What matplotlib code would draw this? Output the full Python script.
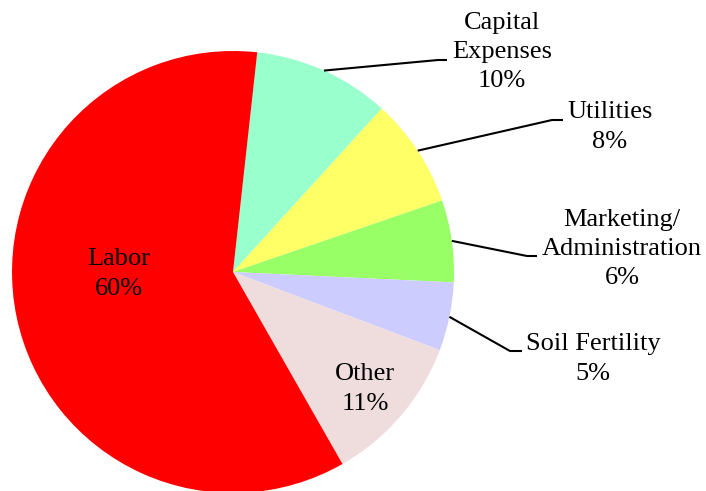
import numpy as np
import matplotlib
matplotlib.use("Agg")
import matplotlib.pyplot as plt

# Data (clockwise from Capital Expenses)
categories = ["Capital\nExpenses", "Utilities", "Marketing/\nAdministration",
              "Soil Fertility", "Other", "Labor"]
values = [10, 8, 6, 5, 11, 60]
pct_labels = ["10%", "8%", "6%", "5%", "11%", "60%"]
colors = ["#99FFCC", "#FFFF66", "#99FF66", "#CCCCFF", "#EFDCDC", "#FF0000"]

W, H = 706, 491
fig = plt.figure(figsize=(W / 100, H / 100), dpi=100)
ax = fig.add_axes([0, 0, 1, 1])

cx, cy, r = 233, H - 272, 221
wedges, _ = ax.pie(values, colors=colors, startangle=83.7, counterclock=False,
                   center=(cx, cy), radius=r,
                   wedgeprops=dict(linewidth=0))
ax.set_xlim(0, W)
ax.set_ylim(0, H)
ax.set_aspect("equal")
ax.axis("off")

font = dict(family="Liberation Serif", fontsize=19, color="black",
            ha="center", va="center", linespacing=1.42)

# Inside labels (Other, Labor)
inside_pos = {4: (365, 389), 5: (119, 274)}
for i, (x, y) in inside_pos.items():
    ax.text(x, H - y, f"{categories[i]}\n{pct_labels[i]}", **font)

# Outside labels with leader lines: (elbow, end, text center) in pixel coords (y down)
outside = {
    0: ((438, 60), (447, 60), (502, 52)),
    1: ((552, 120), (563, 120), (610, 127)),
    2: ((527, 256), (537, 256), (622, 249)),
    3: ((510, 351), (522, 351), (593, 359)),
}
for i, (elbow, end, tpos) in outside.items():
    w = wedges[i]
    mid = np.deg2rad((w.theta1 + w.theta2) / 2)
    sx, sy = cx + r * np.cos(mid), cy + r * np.sin(mid)
    ax.plot([sx, elbow[0], end[0]], [sy, H - elbow[1], H - end[1]],
            color="black", linewidth=1.5, solid_capstyle="butt")
    ax.text(tpos[0], H - tpos[1], f"{categories[i]}\n{pct_labels[i]}", **font)

fig.savefig("out.png", dpi=100)
